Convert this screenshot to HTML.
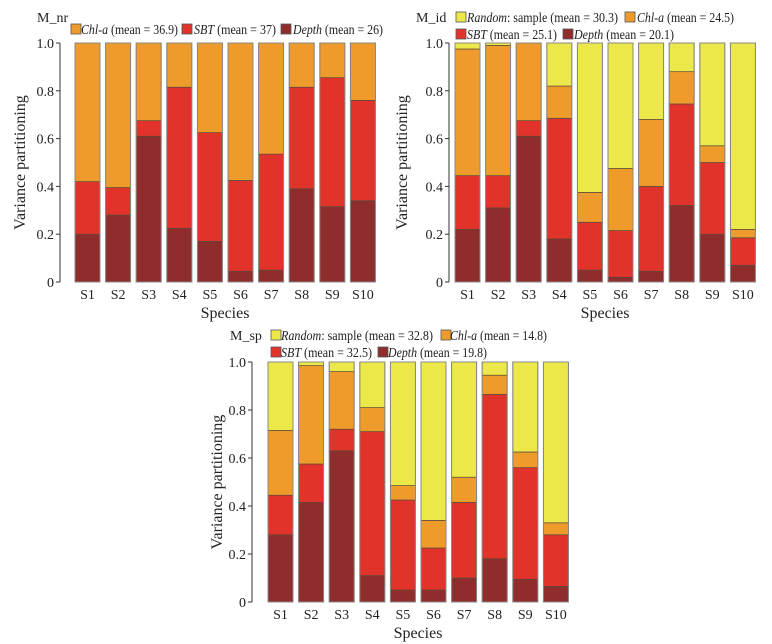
<!DOCTYPE html>
<html><head><meta charset="utf-8">
<style>
body{margin:0;background:#fff;}
svg{display:block;font-family:"Liberation Serif",serif;}
</style></head>
<body>
<svg id="fig" width="772" height="644" viewBox="0 0 772 644" xmlns="http://www.w3.org/2000/svg"></svg>
<script>
const species = ["S1","S2","S3","S4","S5","S6","S7","S8","S9","S10"];
const yTicks = [0,0.2,0.4,0.6,0.8,1.0];
const yTickLabels = ["0","0.2","0.4","0.6","0.8","1.0"];
// M_nr segments
const nrDepth = [0.20,0.28,0.61,0.225,0.17,0.045,0.05,0.39,0.315,0.34];
const nrSBT   = [0.22,0.115,0.065,0.59,0.455,0.38,0.485,0.425,0.54,0.42];
const nrChl   = [0.58,0.605,0.325,0.185,0.375,0.575,0.465,0.185,0.145,0.24];
// M_id segments
const idDepth = [0.22,0.31,0.61,0.18,0.05,0.02,0.045,0.32,0.20,0.07];
const idSBT   = [0.225,0.135,0.065,0.505,0.20,0.195,0.355,0.425,0.30,0.115];
const idChl   = [0.53,0.545,0.325,0.135,0.125,0.26,0.28,0.135,0.07,0.035];
const idRand  = [0.025,0.01,0.0,0.18,0.625,0.525,0.32,0.12,0.43,0.78];
// M_sp segments
const spDepth = [0.28,0.415,0.63,0.11,0.05,0.05,0.10,0.18,0.095,0.065];
const spSBT   = [0.165,0.16,0.09,0.60,0.375,0.175,0.315,0.685,0.465,0.215];
const spChl   = [0.27,0.41,0.24,0.10,0.06,0.115,0.105,0.08,0.065,0.05];
const spRand  = [0.285,0.015,0.04,0.19,0.515,0.66,0.48,0.055,0.375,0.67];

const C = {depth:"#8f2d2d", sbt:"#e2332b", chl:"#ef9b2c", rand:"#ece84a"};
const NS="http://www.w3.org/2000/svg";
const svg=document.getElementById("fig");
function el(tag,attrs,parent){const e=document.createElementNS(NS,tag);for(const k in attrs)e.setAttribute(k,attrs[k]);(parent||svg).appendChild(e);return e;}

function panel(cfg){
  const g=el("g",{});
  
  
  const y=v=>cfg.y0-(cfg.y0-cfg.y1)*v;
  const x=i=>cfg.bx+i*30.6;
  const ax=el("line",{x1:cfg.ax,x2:cfg.ax,y1:y(0),y2:y(1),stroke:"#333","stroke-width":1},g);
  
  
  yTicks.forEach((t,i)=>{
    el("line",{x1:cfg.ax-4,x2:cfg.ax,y1:y(t),y2:y(t),stroke:"#333"},g);
    const tx=el("text",{x:cfg.ax-6,y:y(t)+5,"text-anchor":"end","font-size":14,fill:"#222"},g);
    tx.textContent=yTickLabels[i];
    
    
  });
  species.forEach((s,i)=>{
    let acc=0;
    cfg.series.forEach(ser=>{
      const v=ser.vals[i];
      if(v<=0)return;
      const r=el("rect",{x:x(i),y:y(acc+v),width:25,height:y(acc)-y(acc+v),fill:ser.color,stroke:"#5a4a3a","stroke-width":0.7},g);
      
      
      acc+=v;
    });
    el("rect",{x:x(i),y:y(1),width:25,height:y(0)-y(1),fill:"none",stroke:"#888","stroke-width":1},g);
    const tl=el("text",{x:x(i)+12.5,y:y(0)+17,"text-anchor":"middle","font-size":14,fill:"#222"},g);
    tl.textContent=s;
    
    
  });
  const xt=el("text",{x:cfg.bx+150,y:y(0)+36,"text-anchor":"middle","font-size":16,fill:"#222"},g);
  xt.textContent="Species";
  
  
  const yt=el("text",{x:0,y:0,"text-anchor":"middle","font-size":16,fill:"#222",transform:`translate(${cfg.ylx},${(y(0)+y(1))/2}) rotate(-90)`},g);
  yt.textContent="Variance partitioning";
  
  
  const ti=el("text",{x:cfg.tx,y:cfg.ty,"font-size":14,fill:"#222"},g);
  ti.textContent=cfg.title;
  
  
  cfg.legend.forEach(L=>{
    const sw=el("rect",{x:L.sx,y:L.y-10,width:10,height:10,fill:L.color,stroke:"#555","stroke-width":0.8},g);
    
    
    const t=el("text",{x:L.tx,y:L.y,"font-size":14,fill:"#222",textLength:L.w,lengthAdjust:"spacingAndGlyphs"},g);
    t.innerHTML=`<tspan font-style="italic">${L.it}</tspan>${L.rest}`;
    
    
  });
}

panel({name:"panel-m-nr",title:"M_nr",tx:37,ty:22,ax:60,bx:75,y0:282,y1:43,ylx:25,
  series:[{key:"depth",vals:nrDepth,color:C.depth},{key:"sbt",vals:nrSBT,color:C.sbt},{key:"chl",vals:nrChl,color:C.chl}],
  legend:[{sx:71,tx:81,w:97,y:34,color:C.chl,it:"Chl-a",rest:" (mean = 36.9)"},
          {sx:182,tx:194,w:82,y:34,color:C.sbt,it:"SBT",rest:" (mean = 37)"},
          {sx:281,tx:293,w:90,y:34,color:C.depth,it:"Depth",rest:" (mean = 26)"}]});

panel({name:"panel-m-id",title:"M_id",tx:416,ty:22,ax:449,bx:455,y0:282,y1:43,ylx:407,
  series:[{key:"depth",vals:idDepth,color:C.depth},{key:"sbt",vals:idSBT,color:C.sbt},{key:"chl",vals:idChl,color:C.chl},{key:"random",vals:idRand,color:C.rand}],
  legend:[{sx:456,tx:467,w:151,y:22,color:C.rand,it:"Random",rest:": sample (mean = 30.3)"},
          {sx:625,tx:637,w:97,y:22,color:C.chl,it:"Chl-a",rest:" (mean = 24.5)"},
          {sx:456,tx:467,w:90,y:39,color:C.sbt,it:"SBT",rest:" (mean = 25.1)"},
          {sx:563,tx:574,w:100,y:39,color:C.depth,it:"Depth",rest:" (mean = 20.1)"}]});

panel({name:"panel-m-sp",title:"M_sp",tx:230,ty:340,ax:252,bx:268,y0:602,y1:362,ylx:222,
  series:[{key:"depth",vals:spDepth,color:C.depth},{key:"sbt",vals:spSBT,color:C.sbt},{key:"chl",vals:spChl,color:C.chl},{key:"random",vals:spRand,color:C.rand}],
  legend:[{sx:271,tx:281,w:152,y:340,color:C.rand,it:"Random",rest:": sample (mean = 32.8)"},
          {sx:441,tx:450,w:97,y:340,color:C.chl,it:"Chl-a",rest:" (mean = 14.8)"},
          {sx:271,tx:281,w:91,y:357,color:C.sbt,it:"SBT",rest:" (mean = 32.5)"},
          {sx:378,tx:388,w:99,y:357,color:C.depth,it:"Depth",rest:" (mean = 19.8)"}]});
</script>
</body></html>
